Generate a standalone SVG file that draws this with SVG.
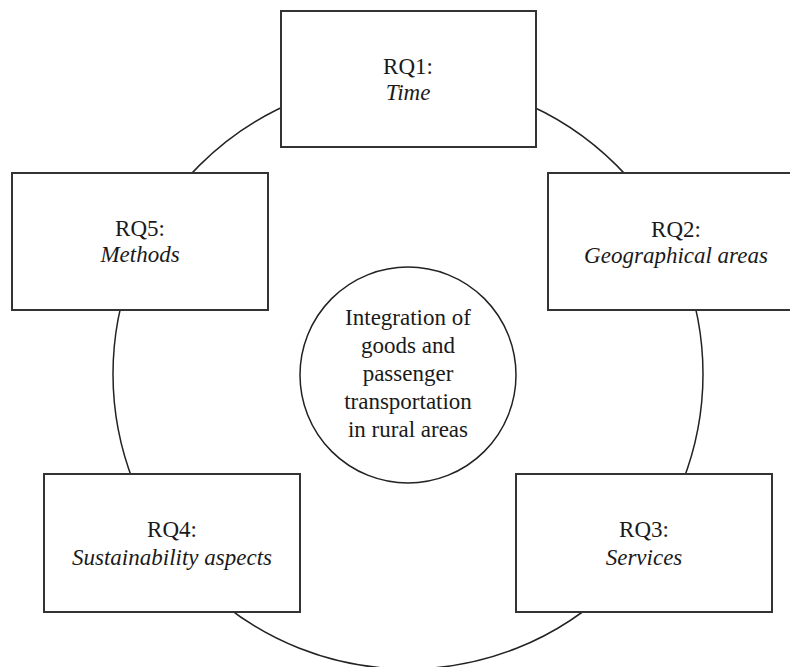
<svg xmlns="http://www.w3.org/2000/svg" width="790" height="667" viewBox="0 0 790 667">
<style>
.box{fill:#fff;stroke:#333;stroke-width:2}
.ring{fill:none;stroke:#222;stroke-width:1.5}
.hub{fill:#fff;stroke:#222;stroke-width:1.5}
text{font-family:"Liberation Serif","Times New Roman",serif;font-size:23px;fill:#1a1a1a;text-anchor:middle}
.it{font-style:italic}
</style>
<rect width="790" height="667" fill="#fff"/>
<g id="connectors">
<circle class="ring" cx="408" cy="374" r="295"/>
</g>
<g id="rq1">
<rect class="box" x="281" y="11" width="255" height="136"/>
<text x="408" y="74">RQ1:</text>
<text class="it" x="408" y="100">Time</text>
</g>
<g id="rq2">
<rect class="box" x="548" y="173" width="256" height="137"/>
<text x="676" y="237">RQ2:</text>
<text class="it" x="676" y="263">Geographical areas</text>
</g>
<g id="rq3">
<rect class="box" x="516" y="474" width="256" height="138"/>
<text x="644" y="537">RQ3:</text>
<text class="it" x="644" y="565">Services</text>
</g>
<g id="rq4">
<rect class="box" x="44" y="474" width="256" height="138"/>
<text x="172" y="537">RQ4:</text>
<text class="it" x="172" y="565">Sustainability aspects</text>
</g>
<g id="rq5">
<rect class="box" x="12" y="173" width="256" height="137"/>
<text x="140" y="236">RQ5:</text>
<text class="it" x="140" y="262">Methods</text>
</g>
<g id="center">
<circle class="hub" cx="408" cy="375" r="108"/>
<text x="408" y="325">Integration of</text>
<text x="408" y="353">goods and</text>
<text x="408" y="381">passenger</text>
<text x="408" y="409">transportation</text>
<text x="408" y="437">in rural areas</text>
</g>
</svg>
